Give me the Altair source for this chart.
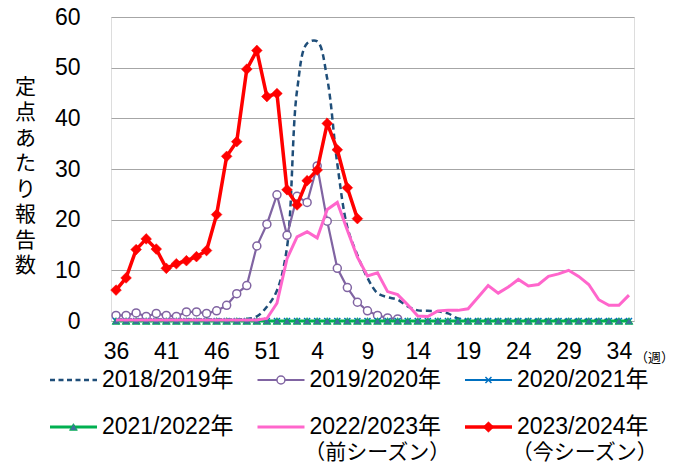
import altair as alt
import pandas as pd

# ---------------- data ----------------
week_labels = list(range(36, 53)) + list(range(1, 36))  # 52 season weeks
idx = list(range(52))

s2018 = [0.3, 0.3, 0.3, 0.3, 0.3, 0.3, 0.3, 0.3, 0.3, 0.3, 0.3, 0.3, 0.3, 0.4,
         0.9, 2.8, 6.0, 14.5, 45.5, 54.8, 55.2, 47.8, 31.0, 18.5, 13.0, 8.5,
         5.5, 4.7, 4.2, 2.9, 2.1, 2.0, 1.9, 1.5, 0.5, 0.2, 0.2, 0.2, 0.2, 0.2,
         0.2, 0.2, 0.2, 0.2, 0.2, 0.2, 0.2, 0.2, 0.2, 0.2, 0.2, 0.2]
s2019 = [1.1, 1.1, 1.6, 0.9, 1.5, 1.1, 0.9, 1.8, 1.8, 1.5, 2.0, 3.1, 5.4, 7.0,
         14.8, 19.1, 24.9, 16.9, 24.6, 23.4, 30.6, 19.7, 10.4, 6.6, 3.7, 2.0,
         1.1, 0.6, 0.4]
s2020 = [0.0] * 52
s2021 = [0.0] * 52
s2022 = [0.2, 0.2, 0.2, 0.2, 0.2, 0.2, 0.2, 0.2, 0.2, 0.2, 0.2, 0.2, 0.2, 0.2,
         0.2, 0.5, 3.5, 12.3, 16.6, 17.6, 16.4, 22.0, 23.4, 17.9, 12.6, 8.9,
         9.5, 5.8, 5.2, 3.2, 1.0, 0.9, 2.0, 2.1, 2.1, 2.4, 4.7, 7.0, 5.5, 6.7,
         8.2, 6.9, 7.2, 8.8, 9.3, 10.0, 8.8, 7.2, 4.2, 3.1, 3.1, 5.1]
s2023 = [6.1, 8.5, 14.1, 16.2, 14.2, 10.4, 11.3, 11.9, 12.7, 13.9, 21.0, 32.5,
         35.4, 49.7, 53.4, 44.3, 44.9, 25.9, 22.9, 27.7, 29.8, 39.0, 33.8, 26.3,
         20.2]

series_names = ["2018/2019年", "2019/2020年", "2020/2021年",
                "2021/2022年", "2022/2023年", "2023/2024年"]
series_values = [s2018, s2019, s2020, s2021, s2022, s2023]
legend_sub = {"2022/2023年": "（前シーズン）", "2023/2024年": "（今シーズン）"}

FONT = "Liberation Sans, Noto Sans CJK JP, sans-serif"
JFONT = "Noto Sans CJK JP, sans-serif"

styles = {
    "2018/2019年": dict(color="#1F4E79", width=2.5, dash=[6, 4], interp="catmull-rom", marker=None),
    "2019/2020年": dict(color="#8064A2", width=2.2, dash=None, interp="linear",
                        marker=dict(shape="circle", filled=True, fill="white", stroke="#8064A2", size=64, strokeWidth=1.5)),
    "2020/2021年": dict(color="#0070C0", width=2.2, dash=None, interp="linear",
                        marker=dict(shape="M-1,-1L1,1M-1,1L1,-1", filled=False, stroke="#0070C0", size=36, strokeWidth=1.5)),
    "2021/2022年": dict(color="#00B050", width=3, dash=None, interp="linear",
                        marker=dict(shape="triangle-up", filled=True, fill="#3F6E9E", stroke="#00B050", size=60, strokeWidth=0.8)),
    "2022/2023年": dict(color="#FF66CC", width=3, dash=None, interp="linear", marker=None),
    "2023/2024年": dict(color="#FF0000", width=3.5, dash=None, interp="linear",
                        marker=dict(shape="diamond", filled=True, fill="#FF0000", stroke="#FF0000", size=115, strokeWidth=0.5)),
}

label_expr = "[" + ",".join(f"'{w}'" for w in week_labels) + "][datum.value]"

x_enc = alt.X("idx:Q",
              scale=alt.Scale(domain=[-0.5, 51.5], nice=False, zero=False),
              axis=alt.Axis(values=list(range(0, 52, 5)), labelExpr=label_expr,
                            grid=False, ticks=False, domain=False,
                            labelFontSize=23, labelFont=FONT, labelColor="black",
                            labelPadding=19, labelFlush=False,
                            title="（週）", titleFont=JFONT, titleFontSize=13,
                            titleFontWeight="normal", titleColor="black",
                            titleX=543, titleY=36, titleAlign="center",
                            titleBaseline="middle", titleAnchor="start"))
y_enc = alt.Y("v:Q",
              scale=alt.Scale(domain=[0, 60], nice=False),
              axis=alt.Axis(values=list(range(0, 61, 10)), grid=True,
                            gridColor="#A6A6A6", gridWidth=1.2,
                            ticks=False, domain=False,
                            labelFontSize=23, labelFont=FONT, labelColor="black",
                            labelPadding=31,
                            title=list("定点あたり報告数"), titleFont=JFONT,
                            titleFontSize=21, titleFontWeight="normal",
                            titleColor="black", titleAngle=0,
                            titleLineHeight=25.5, titleX=-86, titleY=70,
                            titleAlign="center", titleBaseline="middle",
                            titleAnchor="start"))

layers = []
for name, vals in zip(series_names, series_values):
    st = styles[name]
    df = pd.DataFrame({"idx": idx[:len(vals)], "v": vals, "series": name})
    line_kw = dict(color=st["color"], strokeWidth=st["width"], interpolate=st["interp"])
    if st["dash"]:
        line_kw["strokeDash"] = st["dash"]
    base = alt.Chart(df)
    layers.append(base.mark_line(**line_kw).encode(x=x_enc, y=y_enc))
    if st["marker"]:
        layers.append(base.mark_point(opacity=1, **st["marker"]).encode(x=x_enc, y=y_enc))

main = alt.layer(*layers)

# ---------------- legend (own scales) ----------------
leg_df = pd.DataFrame({
    "series": series_names,
    "col": [0, 1, 2, 0, 1, 2],
    "row": [0, 0, 0, 1, 1, 1],
})
sub_df = pd.DataFrame({
    "label": [legend_sub[n] for n in series_names if n in legend_sub],
    "col": [1, 2],
    "row": [1.56, 1.56],
})

lx_scale = alt.Scale(domain=[0, 1], range=[-61, 146.5], nice=False, zero=False)
ly_scale = alt.Scale(domain=[0, 1], range=[363, 410], nice=False, zero=False)

leg_layers = []
for name in series_names:
    st = styles[name]
    d = leg_df[leg_df.series == name]
    b = alt.Chart(d).transform_calculate(
        x0="datum.col", x1="datum.col + 0.2265", xm="datum.col + 0.113")
    rule_kw = dict(color=st["color"], strokeWidth=st["width"])
    if st["dash"]:
        rule_kw["strokeDash"] = [5, 3.5]
    leg_layers.append(b.mark_rule(**rule_kw).encode(
        x=alt.X("x0:Q", scale=lx_scale, axis=None),
        x2="x1:Q",
        y=alt.Y("row:Q", scale=ly_scale, axis=None)))
    if st["marker"]:
        leg_layers.append(b.mark_point(opacity=1, **st["marker"]).encode(
            x=alt.X("xm:Q", scale=lx_scale, axis=None),
            y=alt.Y("row:Q", scale=ly_scale, axis=None)))

leg_layers.append(alt.Chart(leg_df).transform_calculate(xt="datum.col + 0.25").mark_text(
    align="left", baseline="middle", font=FONT, fontSize=23, color="black").encode(
    x=alt.X("xt:Q", scale=lx_scale, axis=None),
    y=alt.Y("row:Q", scale=ly_scale, axis=None),
    text="series:N"))
leg_layers.append(alt.Chart(sub_df).transform_calculate(xt="datum.col + 0.225").mark_text(
    align="left", baseline="middle", font=JFONT, fontSize=21, color="black").encode(
    x=alt.X("xt:Q", scale=lx_scale, axis=None),
    y=alt.Y("row:Q", scale=ly_scale, axis=None),
    text="label:N"))

legend = alt.layer(*leg_layers)

chart = alt.layer(main, legend).resolve_scale(x="independent", y="independent").properties(
    width=523, height=304,
    autosize=alt.AutoSizeParams(type="none"),
    padding={"left": 111, "top": 17, "right": 45, "bottom": 149},
).configure_view(stroke="#8C8C8C", strokeWidth=1.2).configure(background="white")

chart.save("out.html", embed_options={"renderer": "svg", "actions": False})
